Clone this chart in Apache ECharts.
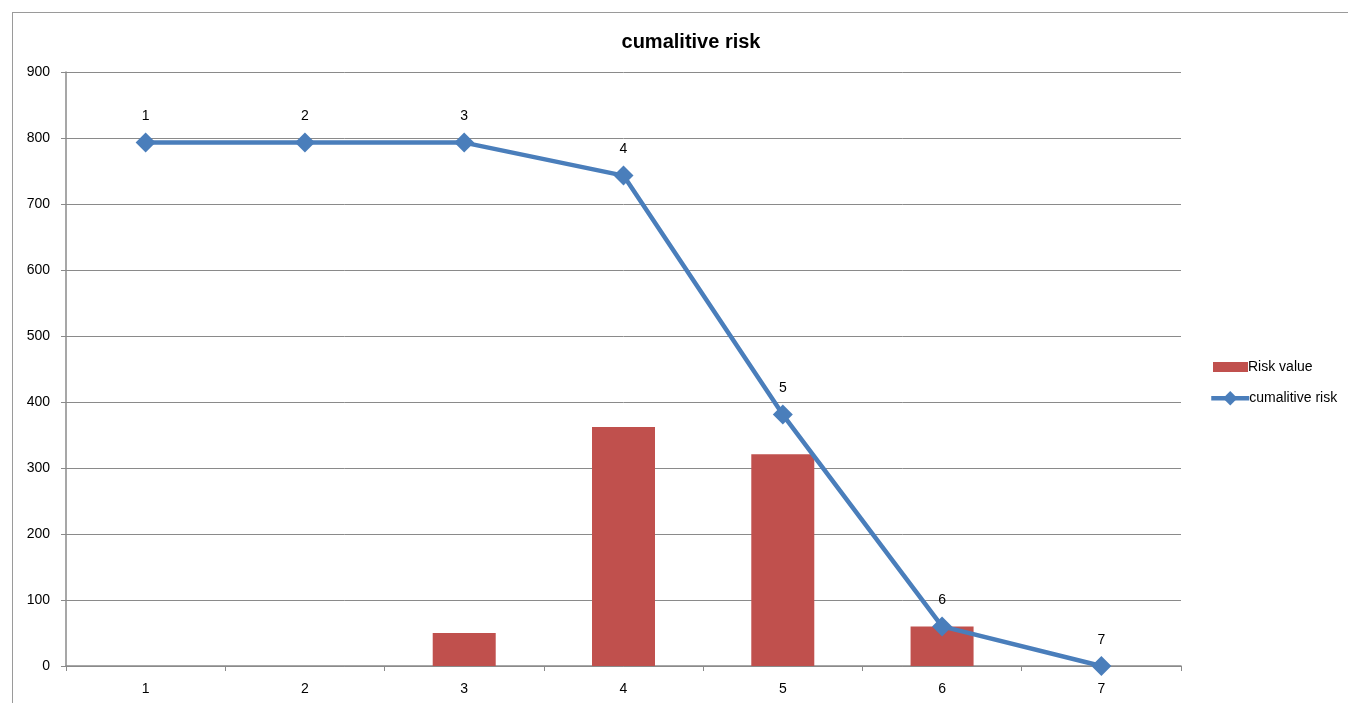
<!DOCTYPE html>
<html>
<head>
<meta charset="utf-8">
<script src="https://cdn.jsdelivr.net/npm/echarts@6/dist/echarts.min.js"></script>
<style>
html,body{margin:0;padding:0;background:#fff;overflow:hidden;}
#frame{position:absolute;left:12px;top:12px;width:1400px;height:800px;border:1px solid #9a9a9a;box-sizing:border-box;}
#chart{position:absolute;left:0;top:0;width:1348px;height:703px;}
</style>
</head>
<body>
<div id="frame"></div>
<div id="chart"></div>
<script>
var categories = ['1','2','3','4','5','6','7'];
var riskValue = [0, 0, 50, 362, 321, 60, 0];
var cumulativeRisk = [793, 793, 793, 743, 381, 60, 0];
var yTicks = [0, 100, 200, 300, 400, 500, 600, 700, 800, 900];

var font = 'Liberation Sans, Arial, sans-serif';
var chart = echarts.init(document.getElementById('chart'));
chart.setOption({
  animation: false,
  backgroundColor: 'transparent',
  title: {
    text: 'cumalitive risk',
    left: 686, top: 27, textAlign: 'center',
    textStyle: {fontFamily: font, fontSize: 20, fontWeight: 'bold', color: '#000'}
  },
  grid: {left: 66, right: 167, top: 72, bottom: 37, containLabel: false},
  legend: [
    {
      orient: 'vertical',
      left: 1208, top: 355,
      itemWidth: 35, itemHeight: 10,
      textStyle: {fontFamily: font, fontSize: 14, color: '#000', padding: [0,0,0,-5]},
      data: [{name: 'Risk value', icon: 'rect'}]
    },
    {
      orient: 'vertical',
      left: 1204, top: 386,
      itemWidth: 38, itemHeight: 18,
      lineStyle: {width: 4.5},
      textStyle: {fontFamily: font, fontSize: 14, color: '#000', padding: [0,0,0,-5]},
      data: [{name: 'cumalitive risk'}]
    }
  ],
  xAxis: {
    type: 'category',
    data: categories,
    boundaryGap: true,
    axisLine: {lineStyle: {color: '#8a8a8a', width: 1.5}},
    axisTick: {show: true, length: 5, inside: false, lineStyle: {color: '#8a8a8a'}},
    axisLabel: {margin: 16, fontFamily: font, fontSize: 14, color: '#000'},
    splitLine: {show: false}
  },
  yAxis: {
    type: 'value',
    min: yTicks[0], max: yTicks[yTicks.length - 1], interval: 100,
    axisLine: {show: true, lineStyle: {color: '#8a8a8a', width: 1.5}},
    axisTick: {show: true, length: 5, lineStyle: {color: '#8a8a8a'}},
    axisLabel: {margin: 16, fontFamily: font, fontSize: 14, color: '#000'},
    splitLine: {show: true, lineStyle: {color: '#8a8a8a', width: 1}}
  },
  series: [
    {
      name: 'Risk value',
      type: 'bar',
      data: riskValue,
      barWidth: 63,
      itemStyle: {color: '#c0504d'}
    },
    {
      name: 'cumalitive risk',
      type: 'line',
      data: cumulativeRisk,
      symbol: 'diamond',
      symbolSize: 20,
      lineStyle: {color: '#4a7ebb', width: 4.5},
      itemStyle: {color: '#4a7ebb'},
      label: {
        show: true, position: 'top', distance: 9,
        formatter: function (p) { return p.name; },
        fontFamily: font, fontSize: 14, color: '#000'
      },
      z: 3
    }
  ]
});
</script>
</body>
</html>
